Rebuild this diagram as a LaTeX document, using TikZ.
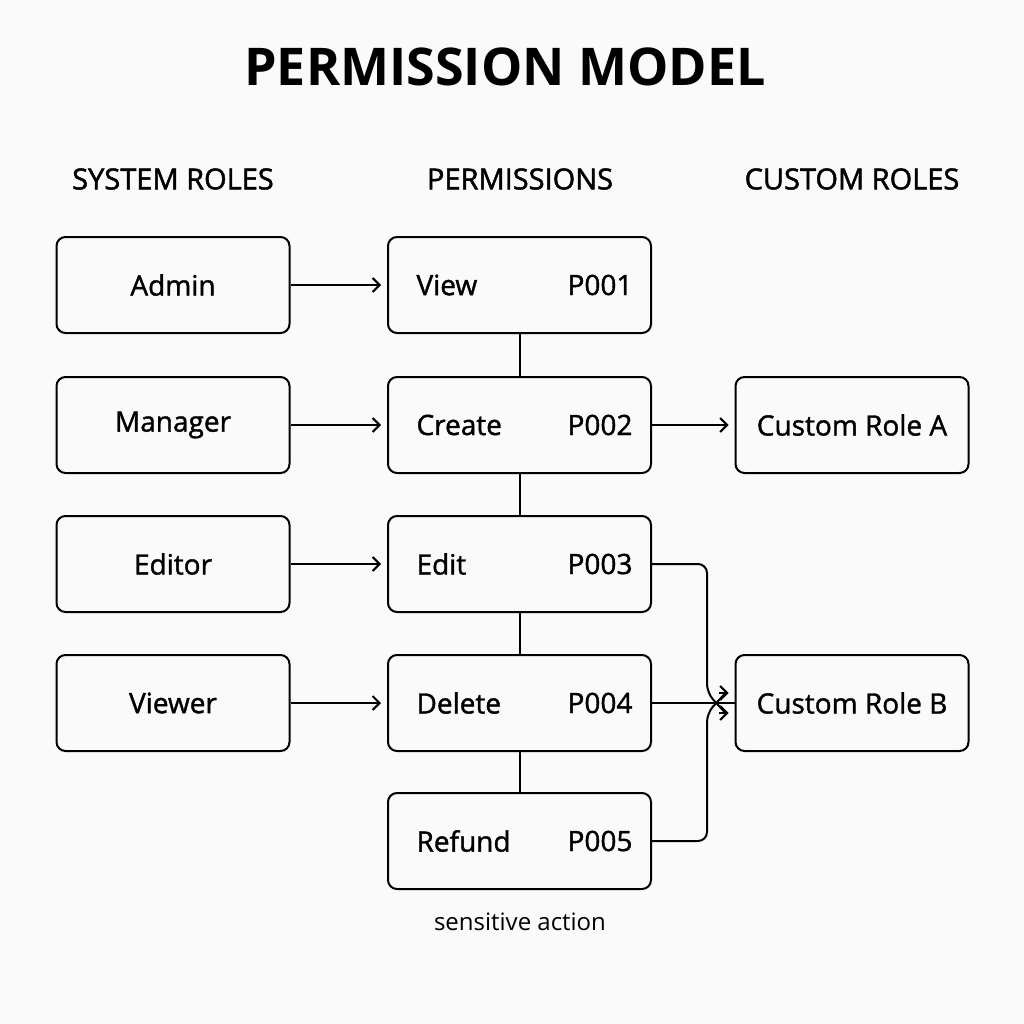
\documentclass[tikz,border=0pt]{standalone}
\usepackage{fontspec}
\setmainfont{Open Sans}
\newfontfamily\medf{Open Sans}[FakeBold=1.3]
\newfontfamily\hdrf{Open Sans}[FakeBold=1.6]
\usetikzlibrary{arrows.meta}
\begin{document}
\begin{tikzpicture}[x=1pt,y=-1pt,
 box/.style={draw,line width=2pt,rounded corners=9pt,minimum width=233pt,minimum height=96pt,inner sep=0pt},
 pbox/.style={box,minimum width=263pt},
 lab/.style={font=\medf\fontsize{28}{30}\selectfont},
 hdr/.style={font=\hdrf\fontsize{29}{30}\selectfont},
 arr/.style={line width=2pt,-{Straight Barb[length=7pt,width=14pt,line width=2pt]}},
 ln/.style={line width=2pt}]
\fill[white!98!black] (0,0) rectangle (1024,1024);
\useasboundingbox (0,0) rectangle (1024,1024);
\node[font=\fontsize{52}{56}\selectfont\bfseries] (title) at (505,67) {PERMISSION MODEL};
\node[hdr] (h1) at (173,179) {SYSTEM ROLES};
\node[hdr] (h2) at (520,179) {PERMISSIONS};
\node[hdr] (h3) at (852,179) {CUSTOM ROLES};
\foreach \n/\t/\y in {admin/Admin/285,manager/Manager/425,editor/Editor/564,viewer/Viewer/703}
  \node[box,lab] (\n) at (173,\y) {\t};
\foreach \n/\t/\c/\y in {view/View/P001/285,create/Create/P002/425,edit/Edit/P003/564,delete/Delete/P004/703,refund/Refund/P005/841}{
  \node[pbox] (\n) at (519.5,\y) {};
  \node[lab,anchor=west] (\n t) at (413,\y) {\t};
  \node[lab,anchor=east] (\n c) at (636,\y) {\c};
}
\node[box,lab] (ca) at (852,425) {Custom Role A};
\node[box,lab] (cb) at (852,703) {Custom Role B};
\node[font=\fontsize{24}{26}\selectfont] (sens) at (520,922) {sensitive action};
\foreach \a/\b in {admin/view,manager/create,editor/edit,viewer/delete}
  \draw[arr] (\a.east) -- ([xshift=-6pt]\b.west);
\draw[arr] (create.east) -- ([xshift=-6pt]ca.west);
\foreach \a/\b in {view/create,create/edit,edit/delete,delete/refund}
  \draw[ln] (\a.south) -- (\b.north);
\draw[ln] (delete.east) -- (cb.west);
\coordinate (cbin1) at ([xshift=-6pt,yshift=-10pt]cb.west);
\coordinate (cbin2) at ([xshift=-6pt,yshift=10pt]cb.west);
\coordinate (k1) at (707,564);
\coordinate (k2) at (707,693);
\coordinate (k3) at (707,841);
\coordinate (k4) at (707,713);
\draw[ln,rounded corners=9pt] (edit.east) -- (k1) -- (k2) -- ([xshift=-3pt]cbin1);
\draw[ln,rounded corners=9pt] (refund.east) -- (k3) -- (k4) -- ([xshift=-3pt]cbin2);
\draw[arr] ([xshift=-10pt]cbin1) -- (cbin1);
\draw[arr] ([xshift=-10pt]cbin2) -- (cbin2);
\end{tikzpicture}
\end{document}
